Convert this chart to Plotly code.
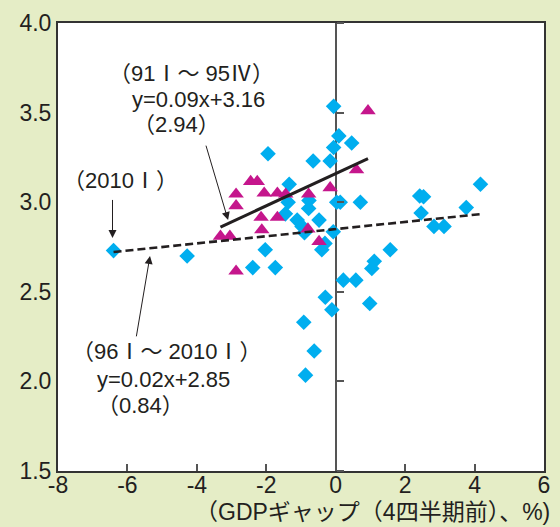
import plotly.graph_objects as go

# 1991 I - 1995 IV : GDP gap (4 quarters earlier, %) vs. rate
gap_9195 = [-2.45, -2.26, -2.87, -2.87, -2.06, -1.68, -1.44, -2.15, -1.68, -2.13,
            -3.32, -3.05, -2.87, -0.78, -0.16, 0.60, 0.93, -0.80, -0.48]
rate_9195 = [3.115, 3.115, 3.045, 2.98, 3.05, 3.05, 3.045, 2.915, 2.915, 2.845,
             2.81, 2.81, 2.615, 3.045, 3.08, 3.18, 3.51, 2.85, 2.78]

# 1996 I - 2010 I
gap_9610 = [-6.40, -4.28, -1.95, -0.06, 0.09, 0.46, -0.06, -0.65, -0.16, -1.34,
            -1.37, -0.77, -0.78, -1.45, -1.11, -0.48, -0.97, -0.90, 0.03, 0.13,
            0.71, -0.07, -0.31, -0.40, -2.03, -2.39, -1.74, 0.22, 0.58, 1.11,
            1.04, 1.57, -0.30, -0.11, 0.98, -0.92, -0.62, -0.87, 2.42, 2.53,
            2.46, 2.83, 3.12, 3.76, 4.17]
rate_9610 = [2.73, 2.70, 3.27, 3.535, 3.37, 3.33, 3.305, 3.23, 3.23, 3.10,
             3.00, 3.01, 2.965, 2.935, 2.90, 2.90, 2.865, 2.83, 3.00, 3.00,
             3.00, 2.835, 2.77, 2.735, 2.735, 2.635, 2.635, 2.565, 2.565, 2.67,
             2.63, 2.735, 2.47, 2.40, 2.435, 2.33, 2.17, 2.035, 3.035, 3.03,
             2.94, 2.865, 2.865, 2.97, 3.10]

# fitted lines: slope, intercept, statistic in parentheses
fit_9195 = (0.09, 3.16, 2.94)
fit_9610 = (0.02, 2.85, 0.84)

x_ticks = [-8, -6, -4, -2, 0, 2, 4, 6]
x_ticktext = ["-8", "-6", "-4", "-2", "0", "2", "4", "6"]
y_ticks = [1.5, 2.0, 2.5, 3.0, 3.5, 4.0]
y_ticktext = ["1.5", "2.0", "2.5", "3.0", "3.5", "4.0"]

x_title = "（GDPギャップ（4四半期前）、%)"

INK = "#231f20"
FONT = "Liberation Sans, Arial, Noto Sans CJK JP, sans-serif"
CYAN = "#00aeef"
MAGENTA = "#c5168c"
FS = 23
FS_NOTE = 22


def fit_line(xs, slope, intercept):
    x0, x1 = min(xs), max(xs)
    return [x0, x1], [slope * x0 + intercept, slope * x1 + intercept]


fig = go.Figure()

fig.add_trace(go.Scatter(
    x=gap_9610, y=rate_9610, mode="markers",
    marker=dict(symbol="diamond", size=12, color=CYAN, line=dict(width=0)),
    showlegend=False, hoverinfo="skip"))

fig.add_trace(go.Scatter(
    x=gap_9195, y=rate_9195, mode="markers",
    marker=dict(symbol="triangle-up", size=13.5, color=MAGENTA, line=dict(width=0)),
    showlegend=False, hoverinfo="skip"))

lx, ly = fit_line(gap_9195, fit_9195[0], fit_9195[1])
fig.add_trace(go.Scatter(x=lx, y=ly, mode="lines", yaxis="y2",
                         line=dict(color=INK, width=3),
                         showlegend=False, hoverinfo="skip"))

lx, ly = fit_line(gap_9610, fit_9610[0], fit_9610[1])
fig.add_trace(go.Scatter(x=lx, y=ly, mode="lines", yaxis="y2",
                         line=dict(color=INK, width=2.6, dash="8px,4px"),
                         showlegend=False, hoverinfo="skip"))

txt = dict(font=dict(family=FONT, size=FS_NOTE, color=INK), showarrow=False,
           xref="x", yref="y", xanchor="left", yanchor="middle")
annotations = [
    dict(text="（91Ⅰ～ 95Ⅳ）", x=-6.6, y=3.718, **txt),
    dict(text="y=%.2fx+%.2f" % fit_9195[:2], x=-5.92, y=3.572, **txt),
    dict(text="（%.2f）" % fit_9195[2], x=-5.9, y=3.432, **txt),
    dict(text="（2010Ⅰ）", x=-7.9, y=3.12, **txt),
    dict(text="（96Ⅰ～ 2010Ⅰ）", x=-7.66, y=2.165, **txt),
    dict(text="y=%.2fx+%.2f" % fit_9610[:2], x=-6.92, y=2.013, **txt),
    dict(text="（%.2f）" % fit_9610[2], x=-6.92, y=1.863, **txt),
]

arr = dict(text="", showarrow=True, arrowhead=2, arrowsize=1.6, arrowwidth=1,
           arrowcolor=INK, xref="x", yref="y", axref="x", ayref="y")
annotations += [
    dict(x=-3.10, y=2.90, ax=-3.75, ay=3.324, **arr),
    dict(x=-6.43, y=2.80, ax=-6.43, ay=3.021, **arr),
    dict(x=-5.35, y=2.70, ax=-5.75, ay=2.243, **arr),
]

annotations.append(dict(text=x_title, xref="paper", yref="paper", x=1, y=0,
                        xanchor="right", yanchor="middle", xshift=8, yshift=-41,
                        showarrow=False,
                        font=dict(family=FONT, size=23, color=INK)))

fig.update_layout(
    width=560, height=527,
    margin=dict(l=58, r=10, t=17, b=56),
    paper_bgcolor="#e5edc6", plot_bgcolor="white",
    font=dict(family=FONT, size=FS, color=INK),
    annotations=annotations,
    xaxis=dict(range=[-8, 6], tickvals=x_ticks, ticktext=x_ticktext,
               ticks="inside", ticklen=7, tickwidth=1.5, tickcolor="#555",
               showline=True, linecolor="#333", linewidth=2, mirror=True,
               zeroline=True, zerolinecolor="#555", zerolinewidth=1.5,
               showgrid=False, tickfont=dict(size=FS), ticklabelstandoff=-8),
    yaxis=dict(range=[1.5, 4.0], tickvals=y_ticks, ticktext=y_ticktext,
               ticks="", showline=True, linecolor="#333", linewidth=2,
               mirror=True, zeroline=False, showgrid=False,
               tickfont=dict(size=FS)),
    yaxis2=dict(range=[1.5, 4.0], tickvals=y_ticks, overlaying="y",
                anchor="free", position=8 / 14, side="right",
                ticks="outside", ticklen=7, tickwidth=1.5, tickcolor="#555",
                showticklabels=False, showline=False, showgrid=False,
                zeroline=False),
)

fig.write_html("out.html")
